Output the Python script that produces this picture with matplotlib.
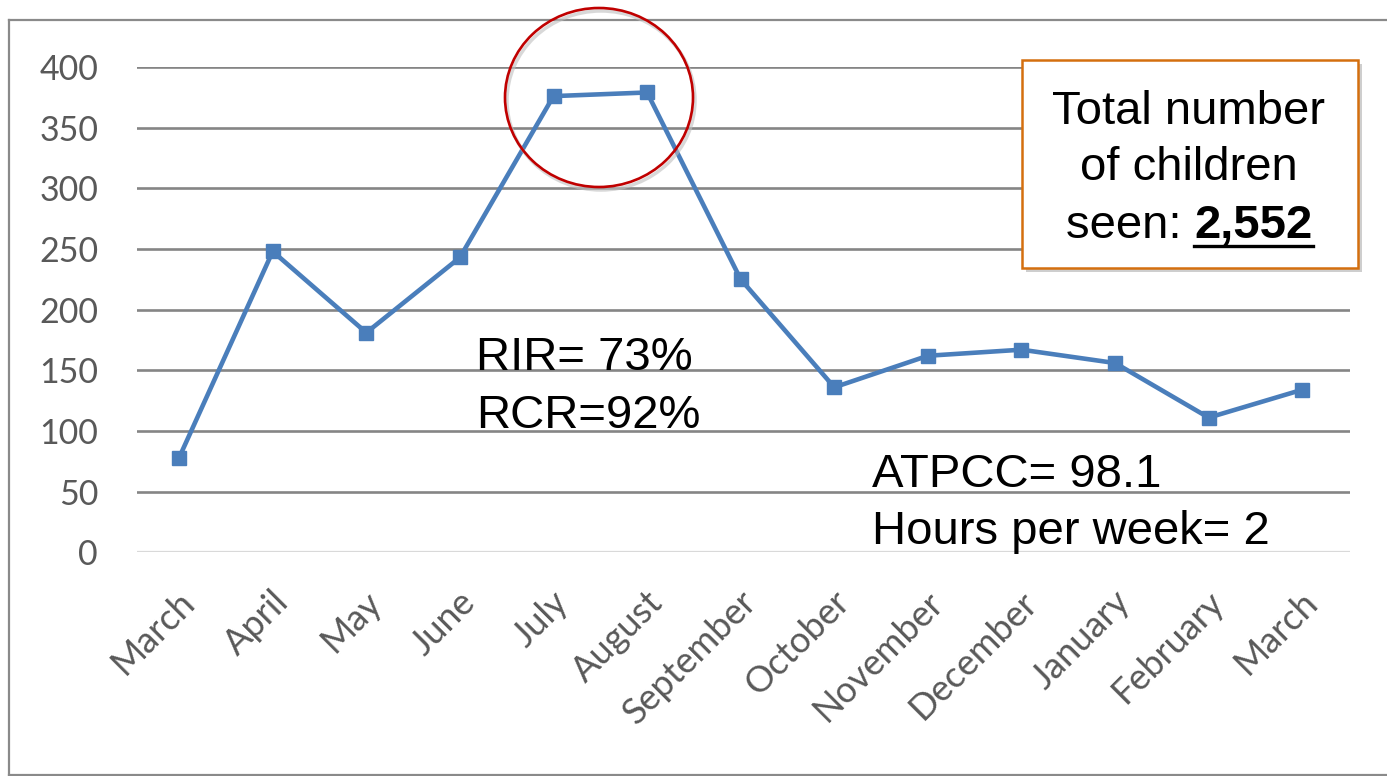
import matplotlib
matplotlib.use("Agg")
import matplotlib.pyplot as plt
from matplotlib.patches import Ellipse, Rectangle
from matplotlib.lines import Line2D
from matplotlib.transforms import ScaledTranslation

# Monthly number of children seen
months = ["March", "April", "May", "June", "July", "August", "September",
          "October", "November", "December", "January", "February", "March"]
children = [78, 248, 181, 243, 376, 379, 225, 136, 162, 167, 156, 111, 134]
y_ticks = [0, 50, 100, 150, 200, 250, 300, 350, 400]

notes_left = ["RIR= 73%", "RCR=92%"]
notes_right = ["ATPCC= 98.1", "Hours per week= 2"]
total_lines = ["Total number", "of children"]
total_prefix = "seen: "
total_value = "2,552"

W, H = 1387, 776
DPI = 100
fig = plt.figure(figsize=(W / DPI, H / DPI), dpi=DPI)
fig.patch.set_facecolor("white")


def fx(px):
    return px / W


def fy(py):
    return 1 - py / H


# plot area in pixel coordinates
ax_l, ax_r, ax_t, ax_b = 137, 1350, 67, 552.3
ax = fig.add_axes([fx(ax_l), fy(ax_b), fx(ax_r) - fx(ax_l), fy(ax_t) - fy(ax_b)])
ax.set_facecolor("none")

x = list(range(len(months)))
ax.plot(x, children, color="#4A7EBB", lw=3.3, marker="s", markersize=10,
        markerfacecolor="#4A7EBB", markeredgecolor="#4A7EBB", zorder=5,
        solid_joinstyle="miter")

ax.set_xlim(-0.45, 12.51)
ax.set_ylim(0, 400)
ax.set_yticks(y_ticks)
ax.set_xticks(x)
ax.set_xticklabels(months)

for v in y_ticks:
    if v == 0:
        ax.axhline(v, color="#d9d9d9", lw=1.6, zorder=1)
    else:
        ax.axhline(v, color="#858585", lw=1.9, zorder=1)

for s in ax.spines.values():
    s.set_visible(False)

ax.tick_params(axis="y", length=0, pad=28, labelsize=24.5, labelcolor="#595959")
ax.tick_params(axis="x", length=0, pad=32, labelsize=26, labelcolor="#595959")
for lab in ax.get_yticklabels():
    lab.set_fontfamily("Lato")
offset = ScaledTranslation(0.10, 0, fig.dpi_scale_trans)
for lab in ax.get_xticklabels():
    lab.set_fontfamily("Lato")
    lab.set_rotation(45)
    lab.set_ha("right")
    lab.set_va("center")
    lab.set_rotation_mode("anchor")
    lab.set_transform(lab.get_transform() + offset)

# outer frame
frame_kw = dict(color="#8a8a8a", lw=1.6, transform=fig.transFigure)
fig.add_artist(Line2D([fx(9), fx(W + 5)], [fy(20), fy(20)], **frame_kw))
fig.add_artist(Line2D([fx(9), fx(9)], [fy(20), fy(775)], **frame_kw))
fig.add_artist(Line2D([fx(9), fx(W + 5)], [fy(775), fy(775)], **frame_kw))

# red circle highlighting the summer peak
cx, cy, cw, ch = 599, 97.5, 188, 179
fig.add_artist(Ellipse((fx(cx + 2), fy(cy + 3)), fx(cw), ch / H,
                       transform=fig.transFigure, fill=False,
                       edgecolor="#bfbfbf", lw=2.5, alpha=0.6, zorder=9))
fig.add_artist(Ellipse((fx(cx), fy(cy)), fx(cw), ch / H,
                       transform=fig.transFigure, fill=False,
                       edgecolor="#C00000", lw=1.9, zorder=10))

text_font = "Liberation Sans"
fs = 34

# annotations
fig.text(fx(476), fy(370), notes_left[0], fontsize=fs, family=text_font,
         va="baseline", ha="left", color="black")
fig.text(fx(476), fy(428), notes_left[1], fontsize=fs, family=text_font,
         va="baseline", ha="left", color="black")
fig.text(fx(872), fy(487), notes_right[0], fontsize=fs, family=text_font,
         va="baseline", ha="left", color="black")
fig.text(fx(872), fy(544), notes_right[1], fontsize=fs, family=text_font,
         va="baseline", ha="left", color="black")

# total box with shadow
bx0, by0, bx1, by1 = 1022, 60, 1358, 268
fig.add_artist(Rectangle((fx(bx0 + 4), fy(by1 + 4)), fx(bx1 - bx0), (by1 - by0) / H,
                         transform=fig.transFigure, facecolor="#a6a6a6",
                         edgecolor="none", alpha=0.55, zorder=11))
fig.add_artist(Rectangle((fx(bx0), fy(by1)), fx(bx1 - bx0), (by1 - by0) / H,
                         transform=fig.transFigure, facecolor="white",
                         edgecolor="#D46F0E", lw=1.8, zorder=12))
box_cx = 1189
fig.text(fx(box_cx), fy(124), total_lines[0], fontsize=fs, family=text_font,
         ha="center", va="baseline", zorder=13)
fig.text(fx(box_cx), fy(180), total_lines[1], fontsize=fs, family=text_font,
         ha="center", va="baseline", zorder=13)

renderer = fig.canvas.get_renderer()
t_pre = fig.text(0, fy(238), total_prefix, fontsize=fs, family=text_font,
                 ha="left", va="baseline", zorder=13)
t_val = fig.text(0, fy(238), total_value, fontsize=fs, family=text_font,
                 fontweight="bold", ha="left", va="baseline", zorder=13)
w_pre = t_pre.get_window_extent(renderer).width
w_val = t_val.get_window_extent(renderer).width
start = box_cx - (w_pre + w_val) / 2
t_pre.set_x(fx(start))
t_val.set_x(fx(start + w_pre))
fig.add_artist(Line2D([fx(start + w_pre), fx(start + w_pre + w_val)], [fy(246), fy(246)],
                      color="black", lw=2.4, transform=fig.transFigure, zorder=13))

fig.savefig("out.png", dpi=DPI, facecolor="white")
